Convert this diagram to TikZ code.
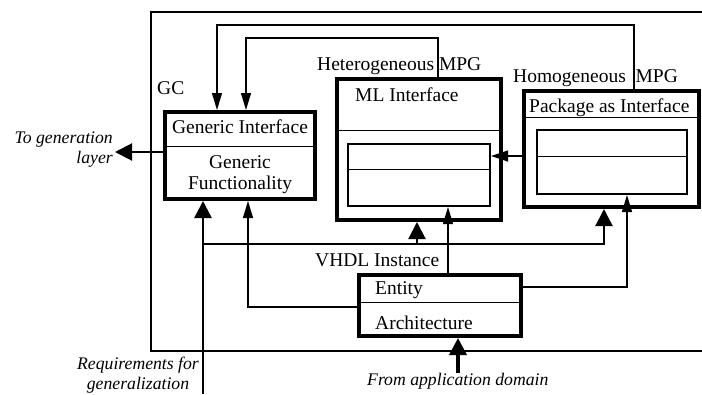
\documentclass[tikz,border=0pt]{standalone}
\usepackage{fontspec}
\setmainfont{Liberation Serif}
\usetikzlibrary{arrows.meta}

\tikzset{
  heavybox/.style={draw, line width=4pt, inner sep=0pt},
  innerbox/.style={draw, line width=2pt, inner sep=0pt},
  divider/.style={line width=0.9pt},
  frame/.style={line width=1.3pt},
  wire/.style={line width=1.2pt},
  bus/.style={line width=2pt},
  feed/.style={line width=2.6pt},
  bigtip/.style={-{Triangle[length=17pt,width=17pt]}},
  midtip/.style={-{Triangle[length=17pt,width=10pt]}},
  sidetip/.style={-{Triangle[length=17pt,width=11pt]}},
  lbl/.style={inner sep=0pt, font=\fontsize{19.5}{21}\selectfont},
  note/.style={inner sep=0pt, font=\fontsize{17.7}{20}\selectfont\itshape},
}

\begin{document}
\begin{tikzpicture}[x=1pt,y=-1pt]
\useasboundingbox (0,0) rectangle (702,394);

% enclosing frame (open on the right)
\draw[frame] (702,12) -- (151,12) -- (151,351) -- (702,351);

% boxes
\node[heavybox, minimum width=150, minimum height=87]  (gc)     at (240,155.5) {};
\node[heavybox, minimum width=164, minimum height=141] (het)    at (419,149.5) {};
\node[innerbox, minimum width=142, minimum height=62]  (hetin)  at (419,175)   {};
\node[heavybox, minimum width=175, minimum height=116] (hom)    at (611.5,149) {};
\node[innerbox, minimum width=150, minimum height=64]  (homin)  at (612,162)   {};
\node[heavybox, minimum width=162, minimum height=61]  (entity) at (440,305.5) {};

% compartment dividers
\draw[divider] (gc.west |- 0,146)     -- (gc.east |- 0,146);
\draw[divider] (het.west |- 0,130)    -- (het.east |- 0,130);
\draw[divider] (hetin.west |- 0,169)  -- (hetin.east |- 0,169);
\draw[divider] (hom.west |- 0,117)    -- (hom.east |- 0,117);
\draw[divider] (homin.west |- 0,156)  -- (homin.east |- 0,156);
\draw[divider] (entity.west |- 0,302) -- (entity.east |- 0,302);

% labels (multi-line nodes are placed by the baseline of their last line)
\node[lbl, anchor=base west] (gclbl)  at (157,94)  {GC};
\node[lbl, anchor=base]      (gi)     at (240,133) {Generic Interface};
\node[lbl, anchor=base, align=center] (gf) at (240,189) {Generic\\Functionality};
\node[lbl, anchor=base west] (hetlbl) at (317,70)  {Heterogeneous MPG};
\node[lbl, anchor=base west] (mli)    at (355,101) {ML Interface};
\node[lbl, anchor=base west] (homlbl) at (513,82)  {Homogeneous\ \ MPG};
\node[lbl, anchor=base west] (pai)    at (529,112) {Package as Interface};
\node[lbl, anchor=base west] (vhdl)   at (315,266) {VHDL Instance};
\node[lbl, anchor=base west] (ent)    at (375,294) {Entity};
\node[lbl, anchor=base west] (arch)   at (375,329) {Architecture};
\node[note, anchor=base east, align=right]  (togen) at (113,163) {To generation\\layer};
\node[note, anchor=base, align=center]      (req)   at (138,389) {Requirements for\\generalization};
\node[note, anchor=base west] (fromapp) at (367,385) {From application domain};

% routing points
\coordinate (homup)  at (634,25);
\coordinate (hetup)  at (438,38);
\coordinate (gentip) at (115,152);
\coordinate (reqin)  at (203,394);
\coordinate (busL)   at (203,244);
\coordinate (appin)  at (458,373);

% feedback from the MPGs to the generic interface
\draw[wire, midtip] (hom.north -| homup) -- (homup) -| (gc.north -| 217,0);
\draw[wire, midtip] (het.north -| hetup) -- (hetup) -| (gc.north -| 246,0);

% homogeneous package into heterogeneous inner part
\draw[wire, sidetip] (hom.west |- 0,156) -- (hetin.east |- 0,156);

% output to the generation layer
\draw[bus, bigtip] (gc.west |- gentip) -- (gentip);

% requirements and the VHDL instance bus
\draw[feed, bigtip] (reqin) -- (gc.south -| reqin);
\draw[bus, bigtip] (busL) -| (hom.south -| 604,0);
\draw[bus, bigtip] (busL -| 417,0) -- (het.south -| 417,0);

% entity connections
\draw[wire, midtip] (entity.west |- 0,307) -| (gc.south -| 248,0);
\draw[wire, midtip] (entity.north -| 448,0) -- (hetin.south -| 448,0);
\draw[wire, midtip] (entity.east |- 0,287) -| (homin.south -| 627,0);

% input from the application domain
\draw[line width=3.4pt, bigtip] (appin) -- (entity.south -| appin);
\end{tikzpicture}
\end{document}
